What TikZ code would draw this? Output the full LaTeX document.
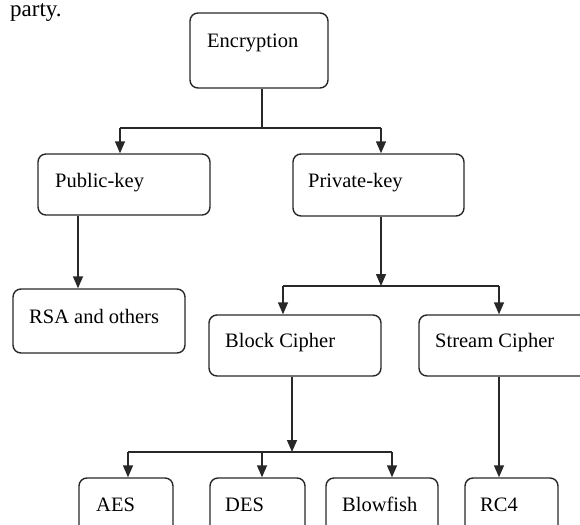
\documentclass[tikz,border=0pt]{standalone}
\usepackage{fontspec}
\setmainfont{Liberation Serif}
\usetikzlibrary{arrows.meta}
\definecolor{linegray}{RGB}{40,40,40}
\tikzset{
  box/.style={draw=linegray, line width=1.4pt, rounded corners=8pt, fill=white, inner sep=0pt},
  lbl/.style={anchor=base west, inner sep=0pt, font=\fontsize{20.5}{24}\selectfont, text=black},
  conn/.style={draw=linegray, line width=1.4pt},
  arr/.style={conn, -{Triangle[length=12pt,width=10pt]}}
}
\begin{document}
\begin{tikzpicture}[x=1pt,y=-1pt]
\useasboundingbox (0,0) rectangle (580,524);
\clip (0,0) rectangle (580,524);
\fill[white] (0,0) rectangle (580,524);
% text from the surrounding page
\node[anchor=base west, inner sep=0pt, font=\fontsize{23}{26}\selectfont] (party) at (10,17) {party.};
% boxes
\node[box, minimum width=138pt, minimum height=75pt] (enc) at (259,50.5) {};
\node[box, minimum width=172pt, minimum height=61pt] (pub) at (124,184.5) {};
\node[box, minimum width=171pt, minimum height=62pt] (priv) at (378.5,185) {};
\node[box, minimum width=172pt, minimum height=64pt] (rsa) at (99,321) {};
\node[box, minimum width=172pt, minimum height=61pt] (block) at (295,345.5) {};
\node[box, minimum width=171pt, minimum height=61pt] (stream) at (504.5,345.5) {};
\node[box, minimum width=94pt, minimum height=60pt] (aes) at (126,508) {};
\node[box, minimum width=95pt, minimum height=60pt] (des) at (257.5,508) {};
\node[box, minimum width=112pt, minimum height=60pt] (blow) at (382,508) {};
\node[box, minimum width=93pt, minimum height=60pt] (rc4) at (511.5,508) {};
% labels
\node[lbl] (tenc) at (207,48) {Encryption};
\node[lbl] (tpub) at (55,187) {Public-key};
\node[lbl] (tpriv) at (308,187) {Private-key};
\node[lbl] (trsa) at (29,323) {RSA and others};
\node[lbl] (tblock) at (225,347) {Block Cipher};
\node[lbl] (tstream) at (435,347) {Stream Cipher};
\node[lbl] (taes) at (96,511) {AES};
\node[lbl] (tdes) at (225,511) {DES};
\node[lbl] (tblow) at (342,511) {Blowfish};
\node[lbl] (trc4) at (480,511) {RC4};
% junction points
\coordinate (j1) at (262,128);
\coordinate (j1l) at (120,128);
\coordinate (j1r) at (381,128);
\coordinate (a2) at (78,0);
\coordinate (j2) at (381,286);
\coordinate (j2l) at (283,286);
\coordinate (j2r) at (499,286);
\coordinate (j3) at (292,452);
\coordinate (j3l) at (128,452);
\coordinate (j3m) at (262,452);
\coordinate (j3r) at (392,452);
% connectors
\draw[conn] (enc.south -| j1) -- (j1);
\draw[conn] (j1l) -- (j1r);
\draw[arr] (j1l) -- (pub.north -| j1l);
\draw[arr] (j1r) -- (priv.north -| j1r);
\draw[arr] (pub.south -| a2) -- (rsa.north -| a2);
\draw[arr] (priv.south -| j2) -- (j2);
\draw[conn] (j2l) -- (j2r);
\draw[arr] (j2l) -- (block.north -| j2l);
\draw[arr] (j2r) -- (stream.north -| j2r);
\draw[arr] (block.south -| j3) -- (j3);
\draw[conn] (j3l) -- (j3r);
\draw[arr] (j3l) -- (aes.north -| j3l);
\draw[arr] (j3m) -- (des.north -| j3m);
\draw[arr] (j3r) -- (blow.north -| j3r);
\draw[arr] (stream.south -| j2r) -- (rc4.north -| j2r);
\end{tikzpicture}
\end{document}
